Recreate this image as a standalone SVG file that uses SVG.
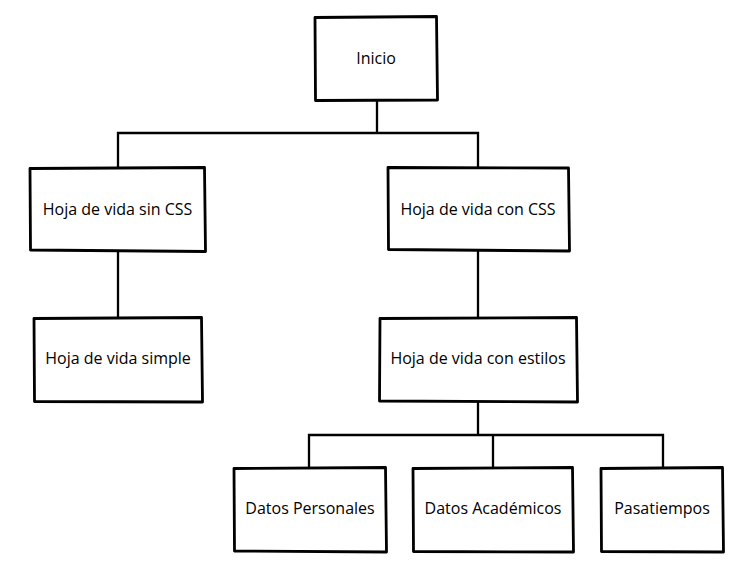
<svg xmlns="http://www.w3.org/2000/svg" width="732" height="563" viewBox="0 0 732 563">
<style>
.box{fill:#fff;stroke:#000;stroke-width:2.8;stroke-linejoin:round;stroke-linecap:round}
.conn{fill:none;stroke:#000;stroke-width:2.3;stroke-linecap:square}
.lbl{font-family:"Open Sans","Liberation Sans",sans-serif;font-size:16px;fill:#000;text-anchor:middle}
</style>
<rect width="732" height="563" fill="#fff"/>
<g id="connectors">
<path class="conn" d="M377 100 V133 M118 133 H478 M118 133 V168 M478 133 V168"/>
<path class="conn" d="M118 251 V318"/>
<path class="conn" d="M478 250 V318"/>
<path class="conn" d="M478 402 V435 M309 435 H663 M309 435 V468 M493 435 V468 M663 435 V468"/>
</g>
<g id="n-inicio">
<path class="box" d="M315 17.5 L436.5 16.5 L437.5 100 L315.5 100.5 Z"/>
<text class="lbl" x="376" y="64">Inicio</text>
</g>
<g id="n-sincss">
<path class="box" d="M30 168.5 L204.5 167.5 L205.5 251.5 L30.5 250 Z"/>
<text class="lbl" x="117.5" y="215">Hoja de vida sin CSS</text>
</g>
<g id="n-concss">
<path class="box" d="M388 167.5 L568.5 168 L569.5 251 L388.5 249.5 Z"/>
<text class="lbl" x="478" y="215">Hoja de vida con CSS</text>
</g>
<g id="n-simple">
<path class="box" d="M34 318.5 L201.5 317.5 L202.5 402 L34.5 401.5 Z"/>
<text class="lbl" x="118" y="364">Hoja de vida simple</text>
</g>
<g id="n-estilos">
<path class="box" d="M380 318.5 L576.5 317.5 L577.5 402 L379.5 401 Z"/>
<text class="lbl" x="478" y="364">Hoja de vida con estilos</text>
</g>
<g id="n-personales">
<path class="box" d="M234 468.5 L385.5 467.5 L386.5 552 L234.5 551 Z"/>
<text class="lbl" x="310" y="514">Datos Personales</text>
</g>
<g id="n-academicos">
<path class="box" d="M413 468.5 L572.5 467.5 L573.5 552 L413.5 551.5 Z"/>
<text class="lbl" x="493" y="514">Datos Académicos</text>
</g>
<g id="n-pasatiempos">
<path class="box" d="M601 468.5 L722.5 467.5 L723.5 552 L601.5 551.5 Z"/>
<text class="lbl" x="662" y="514">Pasatiempos</text>
</g>
</svg>
